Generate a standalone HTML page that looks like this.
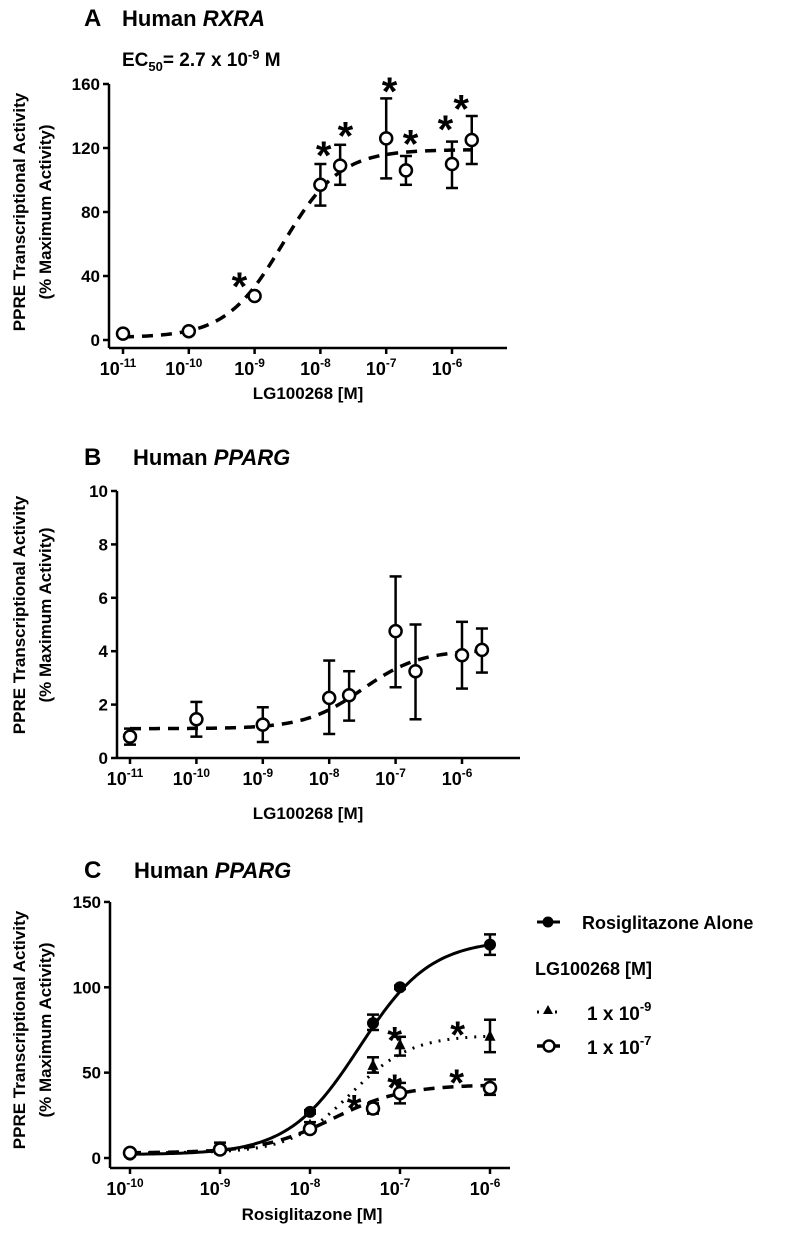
<!DOCTYPE html>
<html><head><meta charset="utf-8">
<style>
html,body{margin:0;padding:0;background:#fff;}
svg{display:block;font-family:"Liberation Sans",Arial,sans-serif;font-weight:bold;}
</style></head>
<body>
<svg id="fig" width="787" height="1235" viewBox="0 0 787 1235"></svg>
<script>
// ---------- Panel A data ----------
const aLogX = [-11, -10, -9, -8, -7.7, -7, -6.7, -6, -5.7];
const aMean = [4, 5.5, 27.5, 97, 109, 126, 106, 110, 125];
const aLow  = [4, 5.5, 27.5, 84, 97, 101, 97, 95, 110];
const aHigh = [4, 5.5, 27.5, 110, 122, 151, 115, 124, 140];
const aFit  = [1.5, 119, -8.57, 1.0]; // bottom, top, logEC50, hill
const aTicksY = [0, 40, 80, 120, 160];
const aTicksX = [-11, -10, -9, -8, -7, -6];
const aStarX = [-9.23, -7.95, -7.62, -6.95, -6.63, -6.1, -5.86];
const aStarY = [40, 122, 134, 162, 129, 138, 151];
// ---------- Panel B data ----------
const bLogX = [-11, -10, -9, -8, -7.7, -7, -6.7, -6, -5.7];
const bMean = [0.8, 1.45, 1.25, 2.25, 2.35, 4.75, 3.25, 3.85, 4.05];
const bLow  = [0.5, 0.8, 0.6, 0.9, 1.4, 2.65, 1.45, 2.6, 3.2];
const bHigh = [1.1, 2.1, 1.9, 3.65, 3.25, 6.8, 5.0, 5.1, 4.85];
const bFit  = [1.1, 4.05, -7.5, 1.0];
const bTicksY = [0, 2, 4, 6, 8, 10];
const bTicksX = [-11, -10, -9, -8, -7, -6];
// ---------- Panel C data ----------
const cLogX = [-10, -9, -8, -7.3, -7, -6];
const rosiMean = [2, 5, 27, 79, 100, 125];
const rosiLow  = [1, 3, 26, 75, 99, 119];
const rosiHigh = [3, 7, 28, 84, 101, 131];
const triMean = [3, 6, 19, 54, 66, 71];
const triLow  = [2, 3, 17, 50, 60, 62];
const triHigh = [4, 9, 21, 59, 71, 81];
const cirMean = [3, 5, 17, 29, 38, 41];
const cirLow  = [2, 3, 15, 26, 32, 37];
const cirHigh = [4, 7, 19, 32, 44, 46];
const rosiFit = [2, 128, -7.45, 1.1];
const triFit  = [3, 72, -7.55, 1.3];
const cirFit  = [3, 43, -7.75, 1.1];
const cTicksY = [0, 50, 100, 150];
const cTicksX = [-10, -9, -8, -7, -6];
const cStarX = [-7.51, -7.06, -7.06, -6.36, -6.37];
const cStarY = [35, 75, 47, 78, 50];

const NS = "http://www.w3.org/2000/svg";
const svg = document.getElementById('fig');
function mk(tag, attrs, parent, name) {
  const e = document.createElementNS(NS, tag);
  for (const k in attrs) e.setAttribute(k, attrs[k]);
  
  
  (parent || svg).appendChild(e);
  return e;
}
function txt(x, y, s, size, parent, name, anchor, extra) {
  const t = mk('text', Object.assign({x: x, y: y, 'font-size': size, 'text-anchor': anchor || 'start', fill: '#000'}, extra || {}), parent, name);
  t.textContent = s;
  return t;
}
function sig(f, lx) { return f[0] + (f[1] - f[0]) / (1 + Math.pow(10, (f[2] - lx) * f[3])); }

function axes(g, P, ticksY, ticksX, name) {
  const sx = v => P.x0 + (v - P.lx0) * P.dec;
  const sy = v => P.y0 - (v - P.ymin) * P.ypx;
  mk('line', {x1: P.ax, y1: sy(ticksY[ticksY.length - 1]), x2: P.ax, y2: P.axY, stroke: '#000', 'stroke-width': 2.5}, g, name + '-y-axis');
  mk('line', {x1: P.ax, y1: P.axY, x2: P.axEnd, y2: P.axY, stroke: '#000', 'stroke-width': 2.5}, g, name + '-x-axis');
  ticksY.forEach(v => {
    mk('line', {x1: P.ax - 6, y1: sy(v), x2: P.ax, y2: sy(v), stroke: '#000', 'stroke-width': 2.5}, g, 'y-tick');
    txt(P.ax - 9, sy(v) + 6, String(v), P.fs, g, 'y-tick-label', 'end');
  });
  ticksX.forEach(v => {
    mk('line', {x1: sx(v), y1: P.axY, x2: sx(v), y2: P.axY + 6, stroke: '#000', 'stroke-width': 2.5}, g, 'x-tick');
    const t = txt(sx(v) - 5, P.axY + 27, '10', P.xfs, g, 'x-tick-label', 'middle');
    const sp = document.createElementNS(NS, 'tspan');
    sp.setAttribute('dy', -8); sp.setAttribute('font-size', P.xfs * 0.66);
    sp.textContent = String(v);
    t.appendChild(sp);
  });
  return {sx, sy};
}
function curve(g, S, fit, lx0, lx1, dash, name, w) {
  let d = '';
  for (let i = 0; i <= 200; i++) {
    const lx = lx0 + (lx1 - lx0) * i / 200;
    d += (i ? 'L' : 'M') + S.sx(lx).toFixed(2) + ',' + S.sy(sig(fit, lx)).toFixed(2);
  }
  mk('path', {d: d, fill: 'none', stroke: '#000', 'stroke-width': w || 3.5, 'stroke-dasharray': dash || 'none'}, g, name);
}
function points(g, S, xs, m, lo, hi, shape, name) {
  xs.forEach((lx, i) => {
    const x = S.sx(lx);
    if (hi[i] !== lo[i]) {
      mk('line', {x1: x, y1: S.sy(hi[i]), x2: x, y2: S.sy(lo[i]), stroke: '#000', 'stroke-width': 2.5}, g, name + '-error-bar');
      mk('line', {x1: x - 6, y1: S.sy(hi[i]), x2: x + 6, y2: S.sy(hi[i]), stroke: '#000', 'stroke-width': 2.5}, g, name + '-error-cap');
      mk('line', {x1: x - 6, y1: S.sy(lo[i]), x2: x + 6, y2: S.sy(lo[i]), stroke: '#000', 'stroke-width': 2.5}, g, name + '-error-cap');
    }
    const y = S.sy(m[i]);
    if (shape === 'open') mk('circle', {cx: x, cy: y, r: 6, fill: '#fff', stroke: '#000', 'stroke-width': 2.5}, g, name + '-point');
    else if (shape === 'filled') mk('circle', {cx: x, cy: y, r: 6, fill: '#000'}, g, name + '-point');
    else mk('path', {d: `M${x},${y - 7}L${x + 5.5},${y + 4}L${x - 5.5},${y + 4}Z`, fill: '#000'}, g, name + '-point');
  });
}
function stars(g, S, xs, ys, size) {
  xs.forEach((lx, i) => txt(S.sx(lx), S.sy(ys[i]) + size * 0.6, '*', size, g, 'significance-star', 'middle'));
}
function ylabel(g, cx, cy, gap, size) {
  txt(0, 0, 'PPRE Transcriptional Activity', size, g, 'y-axis-title', 'middle', {transform: `translate(${cx},${cy}) rotate(-90)`});
  txt(0, 0, '(% Maximum Activity)', size, g, 'y-axis-title-line2', 'middle', {transform: `translate(${cx + gap},${cy}) rotate(-90)`});
}

// ===== Panel A =====
const gA = mk('g', {}, svg, 'panel-a');
txt(84, 26, 'A', 24, gA, 'panel-a-letter');
const tA = txt(122, 26, 'Human ', 22, gA, 'panel-a-title');
const iA = document.createElementNS(NS, 'tspan'); iA.setAttribute('font-style', 'italic'); iA.textContent = 'RXRA'; tA.appendChild(iA);
const ec = txt(122, 66, 'EC', 19, gA, 'ec50-annotation');
const e1 = document.createElementNS(NS, 'tspan'); e1.setAttribute('font-size', 13); e1.setAttribute('dy', 5); e1.textContent = '50'; ec.appendChild(e1);
const e2 = document.createElementNS(NS, 'tspan'); e2.setAttribute('dy', -5); e2.textContent = '= 2.7 x 10'; ec.appendChild(e2);
const e3 = document.createElementNS(NS, 'tspan'); e3.setAttribute('font-size', 13); e3.setAttribute('dy', -7); e3.textContent = '-9'; ec.appendChild(e3);
const e4 = document.createElementNS(NS, 'tspan'); e4.setAttribute('dy', 7); e4.textContent = ' M'; ec.appendChild(e4);
const PA = {x0: 123, lx0: -11, dec: 65.8, y0: 340, ymin: 0, ypx: 1.6, ax: 109, axY: 348, axEnd: 507, fs: 17, xfs: 18};
const SA = axes(gA, PA, aTicksY, aTicksX, 'panel-a');
curve(gA, SA, aFit, -11, -5.7, '11,8', 'panel-a-fit-curve');
points(gA, SA, aLogX, aMean, aLow, aHigh, 'open', 'panel-a');
stars(gA, SA, aStarX, aStarY, 40);
txt(308, 399, 'LG100268 [M]', 17, gA, 'panel-a-x-axis-title', 'middle');
ylabel(gA, 25, 212, 26, 17);

// ===== Panel B =====
const gB = mk('g', {}, svg, 'panel-b');
txt(84, 465, 'B', 24, gB, 'panel-b-letter');
const tB = txt(133, 465, 'Human ', 22, gB, 'panel-b-title');
const iB = document.createElementNS(NS, 'tspan'); iB.setAttribute('font-style', 'italic'); iB.textContent = 'PPARG'; tB.appendChild(iB);
const PB = {x0: 130, lx0: -11, dec: 66.4, y0: 758, ymin: 0, ypx: 26.7, ax: 117, axY: 758, axEnd: 520, fs: 17, xfs: 18};
const SB = axes(gB, PB, bTicksY, bTicksX, 'panel-b');
curve(gB, SB, bFit, -11, -5.7, '11,8', 'panel-b-fit-curve');
points(gB, SB, bLogX, bMean, bLow, bHigh, 'open', 'panel-b');
txt(308, 819, 'LG100268 [M]', 17, gB, 'panel-b-x-axis-title', 'middle');
ylabel(gB, 25, 615, 26, 17);

// ===== Panel C =====
const gC = mk('g', {}, svg, 'panel-c');
txt(84, 878, 'C', 24, gC, 'panel-c-letter');
const tC = txt(134, 878, 'Human ', 22, gC, 'panel-c-title');
const iC = document.createElementNS(NS, 'tspan'); iC.setAttribute('font-style', 'italic'); iC.textContent = 'PPARG'; tC.appendChild(iC);
const PC = {x0: 130, lx0: -10, dec: 90, y0: 1158, ymin: 0, ypx: 1.707, ax: 110, axY: 1168, axEnd: 510, fs: 17, xfs: 18};
const SC = axes(gC, PC, cTicksY, cTicksX, 'panel-c');
curve(gC, SC, rosiFit, -10, -6, 'none', 'rosiglitazone-alone-curve', 3);
curve(gC, SC, triFit, -10, -6, '2,7', 'lg-1e-9-curve', 3);
curve(gC, SC, cirFit, -10, -6, '11,8', 'lg-1e-7-curve', 3.5);
points(gC, SC, cLogX, rosiMean, rosiLow, rosiHigh, 'filled', 'rosiglitazone-alone');
points(gC, SC, cLogX, triMean, triLow, triHigh, 'tri', 'lg-1e-9');
points(gC, SC, cLogX, cirMean, cirLow, cirHigh, 'open', 'lg-1e-7');
stars(gC, SC, cStarX, cStarY, 38);
txt(312, 1220, 'Rosiglitazone [M]', 17, gC, 'panel-c-x-axis-title', 'middle');
ylabel(gC, 25, 1030, 26, 17);

// Legend
const gL = mk('g', {}, gC, 'panel-c-legend');
const lg1 = mk('g', {}, gL, 'legend-entry-rosiglitazone');
mk('line', {x1: 537, y1: 922, x2: 560, y2: 922, stroke: '#000', 'stroke-width': 3}, lg1, 'legend-line');
mk('circle', {cx: 548, cy: 922, r: 5.5, fill: '#000'}, lg1, 'legend-marker');
txt(582, 929, 'Rosiglitazone Alone', 18, lg1, 'legend-label');
txt(535, 975, 'LG100268 [M]', 18, gL, 'legend-group-title');
const lg2 = mk('g', {}, gL, 'legend-entry-1e-9');
mk('line', {x1: 537, y1: 1012, x2: 560, y2: 1012, stroke: '#000', 'stroke-width': 3, 'stroke-dasharray': '2,7'}, lg2, 'legend-line');
mk('path', {d: 'M548,1005L553,1014L543,1014Z', fill: '#000'}, lg2, 'legend-marker');
const l2 = txt(587, 1020, '1 x 10', 19, lg2, 'legend-label');
const s2 = document.createElementNS(NS, 'tspan'); s2.setAttribute('dy', -9); s2.setAttribute('font-size', 13); s2.textContent = '-9'; l2.appendChild(s2);
const lg3 = mk('g', {}, gL, 'legend-entry-1e-7');
mk('line', {x1: 537, y1: 1046, x2: 560, y2: 1046, stroke: '#000', 'stroke-width': 3.5}, lg3, 'legend-line');
mk('circle', {cx: 549, cy: 1046, r: 5.5, fill: '#fff', stroke: '#000', 'stroke-width': 2.5}, lg3, 'legend-marker');
const l3 = txt(587, 1054, '1 x 10', 19, lg3, 'legend-label');
const s3 = document.createElementNS(NS, 'tspan'); s3.setAttribute('dy', -9); s3.setAttribute('font-size', 13); s3.textContent = '-7'; l3.appendChild(s3);
</script>
</body></html>
